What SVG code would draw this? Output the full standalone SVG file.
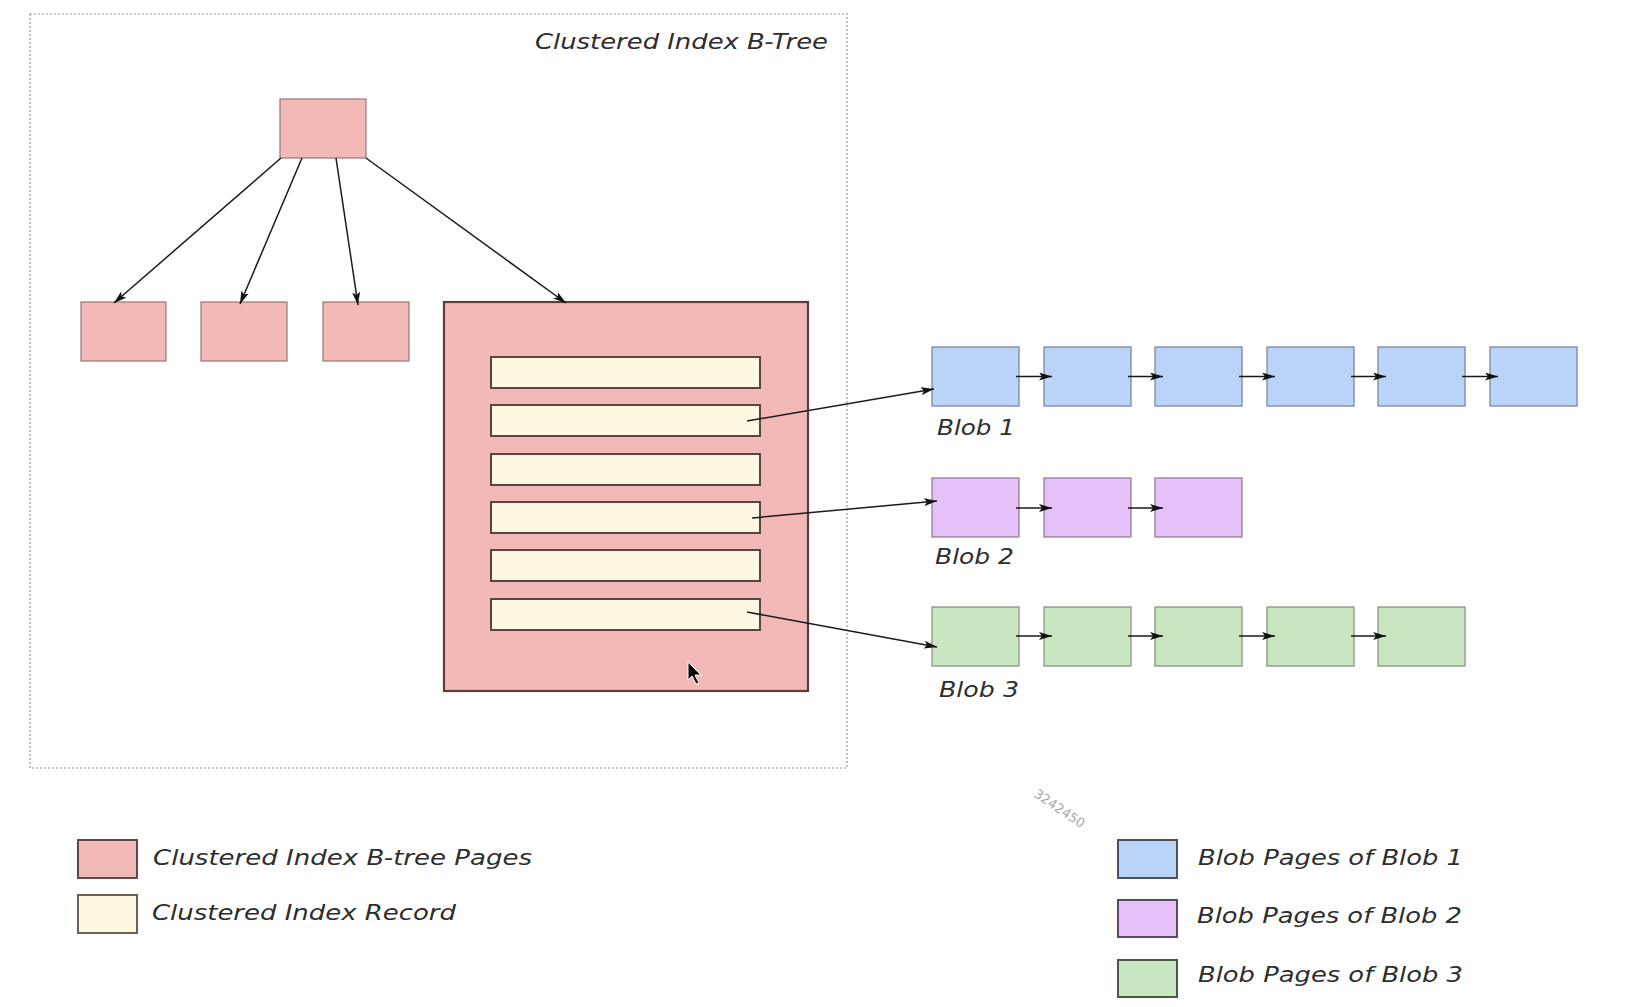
<svg xmlns="http://www.w3.org/2000/svg" width="1626" height="1007" viewBox="0 0 1626 1007">
<style>
.lbl{font-family:"DejaVu Sans","Liberation Sans",sans-serif;font-style:italic;fill:#2e2e2e;}
.pg{fill:#f2b9b7;stroke:#9a7575;stroke-width:1.2;}
.big{fill:#f2b9b7;stroke:#5a3e3e;stroke-width:2.2;}
.rec{fill:#fef8e1;stroke:#5a4444;stroke-width:2;}
.b1{fill:#b9d4f8;stroke:#7d8799;stroke-width:1.3;}
.b2{fill:#e6c0f8;stroke:#8f7f99;stroke-width:1.3;}
.b3{fill:#c8e6c0;stroke:#899486;stroke-width:1.3;}
.ln{stroke:#1a1a1a;stroke-width:1.5;fill:none;marker-end:url(#ah);}
</style>
<defs>
<marker id="ah" markerUnits="userSpaceOnUse" markerWidth="14" markerHeight="8" refX="13" refY="4" orient="auto">
<path d="M0,0 L13,4 L0,8 L3,4 z" fill="#111"/>
</marker>
</defs>
<rect width="1626" height="1007" fill="#fff"/>
<g id="btree-frame">
<rect x="30" y="14" width="817" height="754" fill="none" stroke="#999" stroke-width="1.2" stroke-dasharray="2,2"/>
<text class="lbl" x="828" y="49" font-size="22" text-anchor="end" textLength="293" lengthAdjust="spacingAndGlyphs">Clustered Index B-Tree</text>
</g>
<g id="root"><rect class="pg" x="280" y="99" width="86" height="59"/></g>
<g id="leaf1"><rect class="pg" x="81" y="302" width="85" height="59"/></g>
<g id="leaf2"><rect class="pg" x="201" y="302" width="86" height="59"/></g>
<g id="leaf3"><rect class="pg" x="323" y="302" width="86" height="59"/></g>
<g id="leaf4">
<rect class="big" x="444" y="302" width="364" height="389"/>
<rect class="rec" x="491" y="357" width="269" height="31"/>
<rect class="rec" x="491" y="405" width="269" height="31"/>
<rect class="rec" x="491" y="454" width="269" height="31"/>
<rect class="rec" x="491" y="502" width="269" height="31"/>
<rect class="rec" x="491" y="550" width="269" height="31"/>
<rect class="rec" x="491" y="599" width="269" height="31"/>
</g>
<g id="blob1">
<rect class="b1" x="932" y="347" width="87" height="59"/>
<rect class="b1" x="1044" y="347" width="87" height="59"/>
<rect class="b1" x="1155" y="347" width="87" height="59"/>
<rect class="b1" x="1267" y="347" width="87" height="59"/>
<rect class="b1" x="1378" y="347" width="87" height="59"/>
<rect class="b1" x="1490" y="347" width="87" height="59"/>
<text class="lbl" x="937" y="435" font-size="22" textLength="78" lengthAdjust="spacingAndGlyphs">Blob 1</text>
</g>
<g id="blob2">
<rect class="b2" x="932" y="478" width="87" height="59"/>
<rect class="b2" x="1044" y="478" width="87" height="59"/>
<rect class="b2" x="1155" y="478" width="87" height="59"/>
<text class="lbl" x="935" y="564" font-size="22" textLength="79" lengthAdjust="spacingAndGlyphs">Blob 2</text>
</g>
<g id="blob3">
<rect class="b3" x="932" y="607" width="87" height="59"/>
<rect class="b3" x="1044" y="607" width="87" height="59"/>
<rect class="b3" x="1155" y="607" width="87" height="59"/>
<rect class="b3" x="1267" y="607" width="87" height="59"/>
<rect class="b3" x="1378" y="607" width="87" height="59"/>
<text class="lbl" x="939" y="697" font-size="22" textLength="80" lengthAdjust="spacingAndGlyphs">Blob 3</text>
</g>
<g id="connectors">
<line class="ln" x1="281" y1="158" x2="114" y2="303"/>
<line class="ln" x1="302" y1="158" x2="240" y2="304"/>
<line class="ln" x1="336" y1="158" x2="358" y2="305"/>
<line class="ln" x1="366" y1="158" x2="566" y2="303"/>
<line class="ln" x1="747" y1="421" x2="934" y2="389"/>
<line class="ln" x1="752" y1="518" x2="937" y2="501"/>
<line class="ln" x1="747" y1="612" x2="937" y2="647"/>
<line class="ln" x1="1016" y1="376.5" x2="1052" y2="376.5"/>
<line class="ln" x1="1128" y1="376.5" x2="1163" y2="376.5"/>
<line class="ln" x1="1239" y1="376.5" x2="1275" y2="376.5"/>
<line class="ln" x1="1351" y1="376.5" x2="1386" y2="376.5"/>
<line class="ln" x1="1462" y1="376.5" x2="1498" y2="376.5"/>
<line class="ln" x1="1016" y1="508" x2="1052" y2="508"/>
<line class="ln" x1="1128" y1="508" x2="1163" y2="508"/>
<line class="ln" x1="1016" y1="636" x2="1052" y2="636"/>
<line class="ln" x1="1128" y1="636" x2="1163" y2="636"/>
<line class="ln" x1="1239" y1="636" x2="1275" y2="636"/>
<line class="ln" x1="1351" y1="636" x2="1386" y2="636"/>
</g>
<g id="legend">
<rect x="78" y="840" width="59" height="38" fill="#f2b9b7" stroke="#5a4a4a" stroke-width="2"/>
<text class="lbl" x="153" y="865" font-size="22" textLength="379" lengthAdjust="spacingAndGlyphs">Clustered Index B-tree Pages</text>
<rect x="78" y="895" width="59" height="38" fill="#fef8e1" stroke="#6a6258" stroke-width="2"/>
<text class="lbl" x="152" y="920" font-size="22" textLength="304" lengthAdjust="spacingAndGlyphs">Clustered Index Record</text>
<rect x="1118" y="840" width="59" height="38" fill="#b9d4f8" stroke="#4a5060" stroke-width="2"/>
<text class="lbl" x="1198" y="865" font-size="22" textLength="265" lengthAdjust="spacingAndGlyphs">Blob Pages of Blob 1</text>
<rect x="1118" y="900" width="59" height="37" fill="#e6c0f8" stroke="#5a4a62" stroke-width="2"/>
<text class="lbl" x="1197" y="923" font-size="22" textLength="265" lengthAdjust="spacingAndGlyphs">Blob Pages of Blob 2</text>
<rect x="1118" y="960" width="59" height="37" fill="#c8e6c0" stroke="#4a5848" stroke-width="2"/>
<text class="lbl" x="1198" y="982" font-size="22" textLength="265" lengthAdjust="spacingAndGlyphs">Blob Pages of Blob 3</text>
</g>
<text x="1033" y="796" font-family="DejaVu Sans, sans-serif" font-size="13" fill="#aaa" transform="rotate(34 1033 796)">3242450</text>
<polygon points="688,662 688,680 692,676 696,684 699,683 695,675 701,675" fill="#000" stroke="#fff" stroke-width="1"/>
</svg>
